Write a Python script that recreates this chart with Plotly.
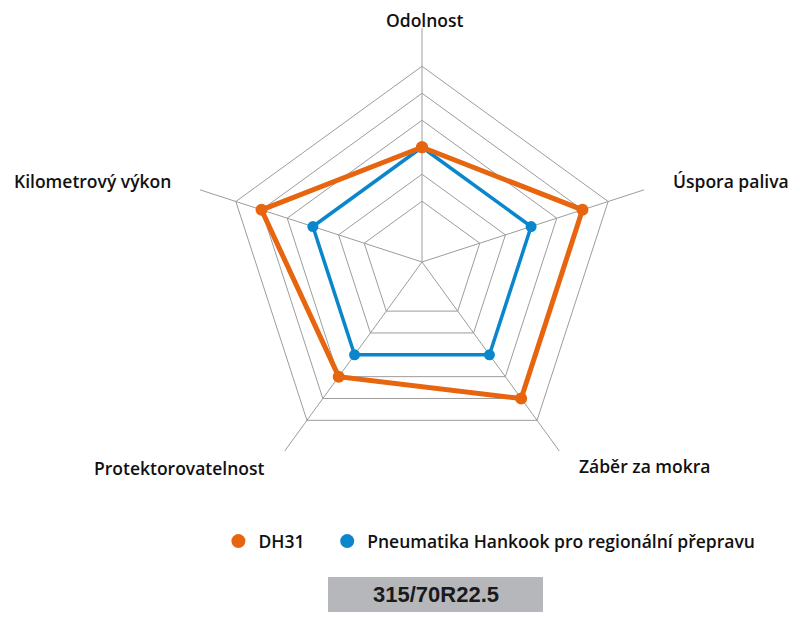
import plotly.graph_objects as go

categories = ["Odolnost", "Úspora paliva", "Záběr za mokra", "Protektorovatelnost", "Kilometrový výkon"]
dh31 = [3, 5, 5, 4, 5]
hankook = [3, 3, 3, 3, 3]
ring_vals = [1, 2, 3, 4, 5, 6]
size_label = "315/70R22.5"

orange = "#e8650f"
blue = "#0a87cc"
font_family = "Open Sans, Roboto, sans-serif"
legend_font = dict(size=17.5, weight=600, color="#111111")
label_font = dict(size=17.5, weight=600, color="#111111")

fig = go.Figure()

# closed polygons, blue under orange
fig.add_trace(go.Scatterpolar(
    r=hankook + hankook[:1], theta=categories + categories[:1],
    mode="lines+markers", line=dict(color=blue, width=3.5),
    marker=dict(size=11, color=blue), showlegend=False))
fig.add_trace(go.Scatterpolar(
    r=dh31 + dh31[:1], theta=categories + categories[:1],
    mode="lines+markers", line=dict(color=orange, width=5),
    marker=dict(size=12, color=orange), showlegend=False))

# dot-only legend entries, each in its own legend box
fig.add_trace(go.Scatterpolar(r=[None], theta=[None], mode="markers", name="DH31",
                              marker=dict(size=14, color=orange), legend="legend"))
fig.add_trace(go.Scatterpolar(r=[None], theta=[None], mode="markers",
                              name="Pneumatika Hankook pro regionální přepravu",
                              marker=dict(size=14, color=blue), legend="legend2"))

# axis names placed by hand (page body adds an 8px offset -> pixel values are 8px up/left)
label_pos = [(417, 12, "center"), (664, 173, "left"), (570, 458, "left"),
             (258, 460, "right"), (164, 173, "right")]
annotations = []
for name, (px, py, anchor) in zip(categories, label_pos):
    annotations.append(dict(text=name, xref="paper", yref="paper", x=px / 800, y=1 - py / 620,
                            xanchor=anchor, yanchor="middle", showarrow=False, borderpad=0,
                            font=label_font))
annotations.append(dict(text=size_label, xref="paper", yref="paper",
                        x=427.5 / 800, y=1 - 586 / 620, xanchor="center", yanchor="middle",
                        showarrow=False,
                        font=dict(family="Liberation Sans, Arial, sans-serif",
                                  size=22, weight=700, color="#1a1a1a")))

fig.update_layout(
    width=800, height=620,
    margin=dict(l=0, r=0, t=0, b=0),
    paper_bgcolor="white",
    font=dict(family=font_family, size=17, color="#111111"),
    polar=dict(
        domain=dict(x=[0.2250, 0.8100], y=[0.2137, 0.9670]),
        gridshape="linear",
        bgcolor="white",
        radialaxis=dict(range=[-1.25, 7.4], tickvals=ring_vals, showticklabels=False,
                        showline=False, ticks="", gridcolor="#9c9c9c", gridwidth=1),
        angularaxis=dict(rotation=90, direction="clockwise", showline=False, ticks="",
                         showticklabels=False, gridcolor="#9c9c9c", gridwidth=1),
    ),
    legend=dict(orientation="h", x=0.263, y=0.14, xanchor="left", yanchor="middle",
                font=legend_font, itemwidth=30),
    legend2=dict(orientation="h", x=0.399, y=0.14, xanchor="left", yanchor="middle",
                 font=legend_font, itemwidth=30),
    shapes=[dict(type="rect", xref="paper", yref="paper",
                 x0=320 / 800, x1=535 / 800, y0=1 - 604 / 620, y1=1 - 569 / 620,
                 fillcolor="#b5b7ba", line=dict(width=0), layer="below")],
    annotations=annotations,
)

fig.write_html("out.html")
